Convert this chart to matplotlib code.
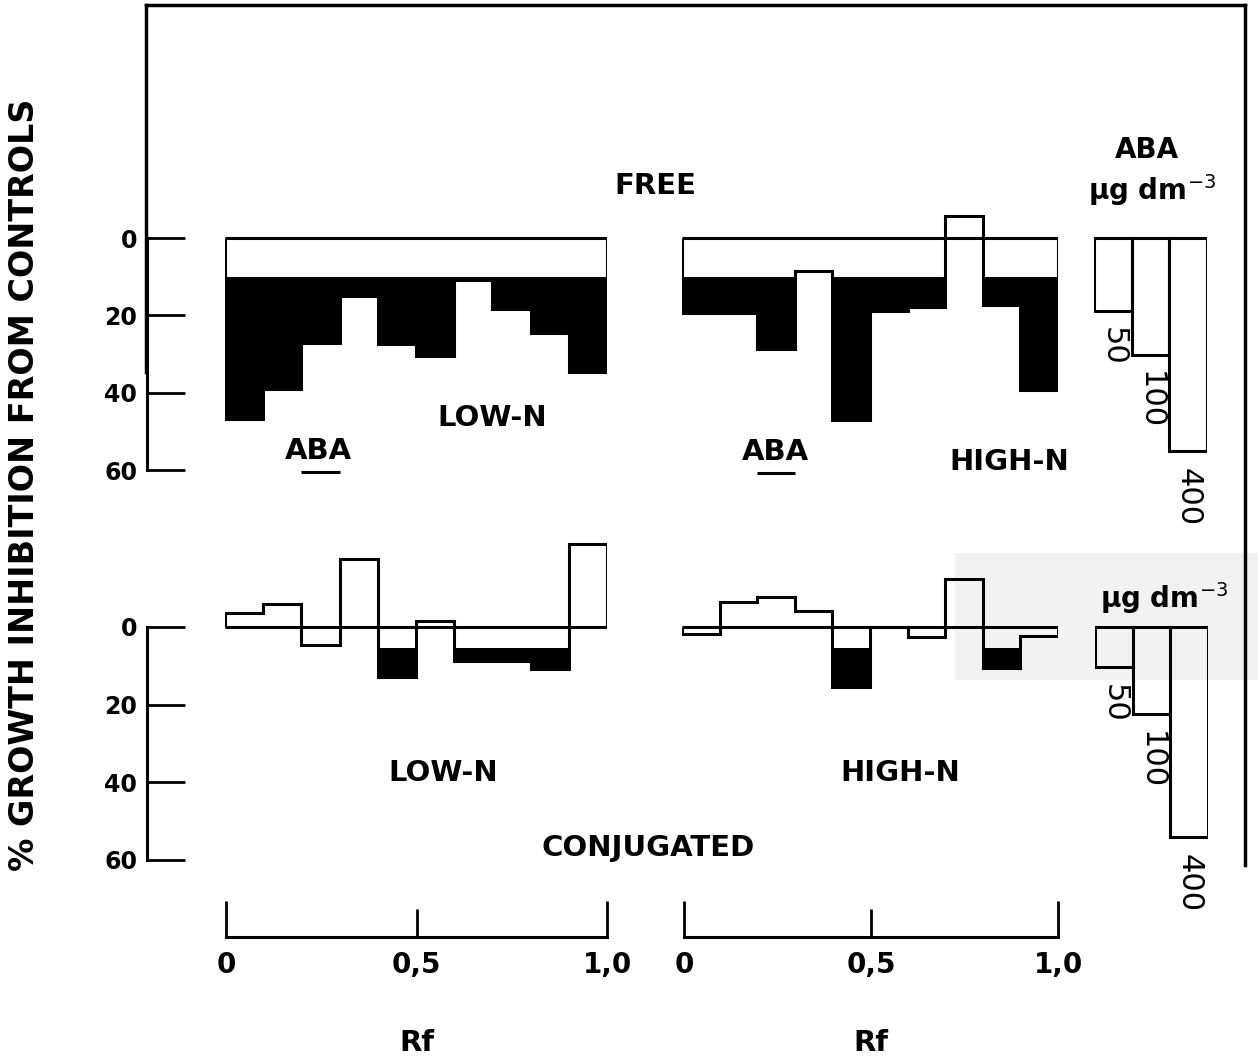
import numpy as np
import matplotlib.pyplot as plt
from matplotlib.patches import Rectangle

plt.rcParams['font.family'] = 'DejaVu Sans'

# Rf fractions of the chromatogram (10 bins)
rf_edges = np.linspace(0, 1, 11)

# % growth inhibition from controls for each Rf fraction (positive = inhibition)
free_low_n = [46.8, 39.0, 27.2, 14.9, 27.4, 30.5, 10.8, 18.4, 24.6, 34.6]
free_high_n = [19.5, 19.5, 28.7, 8.6, 47.0, 19.0, 17.8, -5.7, 17.3, 39.3]
conj_low_n = [-3.5, -6.0, 4.6, -17.6, 12.8, -1.5, 8.7, 8.7, 10.8, -21.3]
conj_high_n = [1.9, -6.5, -7.8, -4.1, 15.5, 0.0, 2.5, -12.3, 10.5, 2.3]

# inhibition beyond these levels is filled black
free_thresh = 10
conj_thresh = 5.5

# ABA standards (ug dm-3) and their inhibition
aba_doses = ['50', '100', '400']
aba_free = [18.8, 30.2, 55.2]
aba_conj = [10.3, 22.5, 54.3]
aba_rf = (0.2, 0.3)  # position of authentic ABA

y_ticks = [0, 20, 40, 60]
rf_ticks = [0, 1.0]
rf_labels = ['0', '1,0']

W, H = 1258, 1060
fig = plt.figure(figsize=(W / 100, H / 100), dpi=100)

LW = 2.2
Y_TOP, Y_BOT = -25, 68
row_free = (238, 3.867)   # pixel of zero, pixels per % unit
row_conj = (627, 3.875)


def px_axes(x0, x1, y0, y1):
    ax = fig.add_axes([x0 / W, 1 - y1 / H, (x1 - x0) / W, (y1 - y0) / H])
    ax.patch.set_visible(False)
    return ax


def row_axes(x0, x1, row, xlim):
    zero, unit = row
    ax = px_axes(x0, x1, zero + Y_TOP * unit, zero + Y_BOT * unit)
    ax.set_xlim(*xlim)
    ax.set_ylim(Y_BOT, Y_TOP)
    return ax


def label(x, y, s, **kw):
    kw.setdefault('fontsize', 21)
    kw.setdefault('fontweight', 'bold')
    fig.text(x / W, 1 - y / H, s, ha='center', va='center', **kw)


def profile(ax, vals, thresh):
    v = np.asarray(vals, dtype=float)
    ax.stairs(np.maximum(v, thresh), rf_edges, baseline=thresh, fill=True,
              color='black', lw=0)
    ax.stairs(v, rf_edges, baseline=0, color='black', lw=LW)
    ax.hlines(0, rf_edges[0], rf_edges[-1], color='black', lw=LW)
    ax.axis('off')


def standards(ax, vals):
    ax.bar(np.arange(len(vals)), vals, width=1, align='edge', fill=False,
           edgecolor='black', lw=LW)
    for i, (lab, v) in enumerate(zip(aba_doses, vals)):
        ax.annotate(lab, (i + 0.5, v), xytext=(0, -12), textcoords='offset points',
                    rotation=-90, ha='center', va='top', fontsize=22)
    ax.axis('off')


def y_scale(row):
    ax = row_axes(147, 190, row, (0, 1))
    for s in ['top', 'right', 'bottom']:
        ax.spines[s].set_visible(False)
    ax.spines['left'].set_bounds(0, 60)
    ax.spines['left'].set_linewidth(LW)
    ax.set_xticks([])
    ax.set_yticks(y_ticks)
    ax.tick_params(axis='y', direction='in', length=27, width=2, pad=7, labelsize=17)
    for t in ax.get_yticklabels():
        t.set_fontweight('bold')


def rf_axis(x0, x1):
    ax = px_axes(x0, x1, 880, 937)
    ax.set_xlim(0, 1)
    ax.set_ylim(0, 1)
    for s in ['top', 'right', 'left']:
        ax.spines[s].set_visible(False)
    ax.spines['bottom'].set_linewidth(LW)
    ax.set_yticks([])
    ax.set_xticks(rf_ticks, labels=rf_labels)
    ax.set_xticks([0.5], labels=['0,5'], minor=True)
    ax.tick_params(axis='x', which='major', direction='in', length=26, width=2,
                   pad=10, labelsize=20)
    ax.tick_params(axis='x', which='minor', direction='in', length=20, width=2,
                   pad=10, labelsize=20)
    for t in ax.get_xticklabels() + ax.get_xticklabels(minor=True):
        t.set_fontweight('bold')
    ax.set_xlabel('Rf', fontsize=21, fontweight='bold', labelpad=36)


# faint scan shading
fig.add_artist(Rectangle((955 / W, 1 - 680 / H), (W - 955) / W, 127 / H,
                         transform=fig.transFigure, color='#f2f2f2', lw=0, zorder=-1))

# outer frame
frame = px_axes(146, 1245, 5, 865)
frame.set_xticks([])
frame.set_yticks([])
frame.set_ylim(0, 860)
frame.spines['bottom'].set_visible(False)
frame.spines['left'].set_bounds(493, 860)
for s in frame.spines.values():
    s.set_linewidth(2.5)

# FREE row
ax = row_axes(225, 607, row_free, (0, 1))
profile(ax, free_low_n, free_thresh)
ax.hlines(60.5, *aba_rf, color='black', lw=LW)
ax = row_axes(682, 1058, row_free, (0, 1))
profile(ax, free_high_n, free_thresh)
ax.hlines(60.8, *aba_rf, color='black', lw=LW)
standards(row_axes(1094, 1207, row_free, (0, 3)), aba_free)
y_scale(row_free)

# CONJUGATED row
ax = row_axes(225, 607, row_conj, (0, 1))
profile(ax, conj_low_n, conj_thresh)
ax = row_axes(682, 1058, row_conj, (0, 1))
profile(ax, conj_high_n, conj_thresh)
standards(row_axes(1095, 1208, row_conj, (0, 3)), aba_conj)
y_scale(row_conj)

rf_axis(226, 607)
rf_axis(684, 1058)

label(655, 186, 'FREE')
label(492, 418, 'LOW-N')
label(318, 451, 'ABA')
label(775, 452, 'ABA')
label(1009, 462, 'HIGH-N')
label(443, 773, 'LOW-N')
label(900, 773, 'HIGH-N')
label(648, 848, 'CONJUGATED')
label(1147, 150, 'ABA', fontsize=20)
label(1152, 190, 'µg dm$^{-3}$', fontsize=20)
label(1164, 598, 'µg dm$^{-3}$', fontsize=20)
label(25, 485, '% GROWTH INHIBITION FROM CONTROLS', rotation=90, fontsize=24)

fig.savefig('out.png', dpi=100)
